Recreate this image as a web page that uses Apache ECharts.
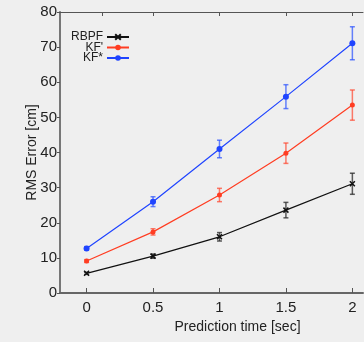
<!DOCTYPE html>
<html><head><meta charset="utf-8">
<script src="https://cdn.jsdelivr.net/npm/echarts@6/dist/echarts.min.js"></script>
<style>html,body{margin:0;padding:0;background:#efefef}#c{width:364px;height:342px}</style>
</head><body><div id="c"></div>
<script>
const times = [0, 0.5, 1, 1.5, 2];
const xTickLabels = [0, 0.5, 1, 1.5, 2];
const topTicks = [0.12, 0.5, 1, 1.5, 2];
const seriesNames = ['RBPF', "KF'", 'KF*'];
const rbpf = [5.6, 10.5, 16.0, 23.6, 31.1];
const rbpfErr = [0.3, 0.6, 1.2, 2.2, 3.0];
const kfp = [9.1, 17.4, 27.9, 39.8, 53.5];
const kfpErr = [0.4, 0.9, 1.9, 2.9, 4.3];
const kfs = [12.7, 26.0, 41.0, 55.9, 71.1];
const kfsErr = [0.5, 1.4, 2.5, 3.4, 4.7];
const colors = ['#111111', '#ff3d22', '#1f44ff'];
const errColors = ['rgba(40,40,40,0.75)', 'rgba(255,70,45,0.7)', 'rgba(40,80,255,0.7)'];

const xSym = 'path://M0,0L10,10M10,0L0,10';
const chart = echarts.init(document.getElementById('c'), null, {renderer: 'canvas'});

function errSeries(vals, errs, ci) {
  return {
    type: 'custom', xAxisIndex: 0, yAxisIndex: 0, z: 3,
    data: times.map((t, i) => [t, vals[i] - errs[i], vals[i] + errs[i]]),
    renderItem: function (params, api) {
      const lo = api.coord([api.value(0), api.value(1)]);
      const hi = api.coord([api.value(0), api.value(2)]);
      const w = 2.5;
      const st = {stroke: errColors[ci], lineWidth: 1.5};
      return {type: 'group', children: [
        {type: 'line', shape: {x1: lo[0], y1: lo[1], x2: hi[0], y2: hi[1]}, style: st},
        {type: 'line', shape: {x1: lo[0] - w, y1: lo[1], x2: lo[0] + w, y2: lo[1]}, style: st},
        {type: 'line', shape: {x1: hi[0] - w, y1: hi[1], x2: hi[0] + w, y2: hi[1]}, style: st}
      ]};
    },
    silent: true
  };
}

function lineSeries(name, vals, ci, symbol, size) {
  return {
    name: name, type: 'line', xAxisIndex: 0, yAxisIndex: 0, z: 4,
    data: times.map((t, i) => [t, vals[i]]),
    symbol: symbol, symbolSize: size, showSymbol: true,
    lineStyle: {color: colors[ci], width: 1.2},
    itemStyle: {color: colors[ci], borderColor: colors[ci], borderWidth: symbol === xSym ? 1.5 : 0},
    animation: false
  };
}

chart.setOption({
  backgroundColor: '#efefef',
  animation: false,
  textStyle: {fontFamily: 'Liberation Sans, Arial, sans-serif'},
  grid: {left: 60, right: 1, top: 12, bottom: 49},
  legend: {
    orient: 'vertical', align: 'right', left: 71, top: 31,
    itemWidth: 22, itemHeight: 7, itemGap: -1.5, padding: 0,
    textStyle: {fontSize: 12, color: '#222', lineHeight: 9, padding: [0, -1, 0, 0]},
    data: seriesNames
  },
  xAxis: [{
    type: 'value', min: -0.2, max: 2.08, position: 'bottom',
    name: 'Prediction time [sec]', nameLocation: 'middle', nameGap: 17,
    nameTextStyle: {fontSize: 14, color: '#222', padding: [0, 0, 0, 52]},
    axisLine: {show: true, onZero: false, lineStyle: {color: '#666', width: 2}},
    axisTick: {show: true, inside: true, length: 5, lineStyle: {color: '#555'}, customValues: xTickLabels},
    axisLabel: {fontSize: 15, color: '#222', margin: 7, customValues: xTickLabels},
    splitLine: {show: false}
  }, {
    type: 'value', min: -0.2, max: 2.08, position: 'top',
    axisLine: {show: true, onZero: false, lineStyle: {color: '#555', width: 1}},
    axisTick: {show: true, inside: true, length: 4, lineStyle: {color: '#555'}, customValues: topTicks},
    axisLabel: {show: false},
    splitLine: {show: false}
  }],
  yAxis: {
    type: 'value', min: 0, max: 80, interval: 10,
    name: 'RMS Error [cm]', nameLocation: 'middle', nameGap: 21, nameMoveOverlap: false,
    nameTextStyle: {fontSize: 14, color: '#222'},
    axisLine: {show: true, onZero: false, lineStyle: {color: '#777', width: 2}},
    axisTick: {show: true, inside: false, length: 3, lineStyle: {color: '#555'}},
    axisLabel: {fontSize: 15, color: '#222', margin: 3},
    splitLine: {show: false}
  },
  series: [
    errSeries(rbpf, rbpfErr, 0),
    errSeries(kfp, kfpErr, 1),
    errSeries(kfs, kfsErr, 2),
    lineSeries(seriesNames[0], rbpf, 0, xSym, 5),
    lineSeries(seriesNames[1], kfp, 1, 'circle', 5),
    lineSeries(seriesNames[2], kfs, 2, 'circle', 6)
  ]
});
</script></body></html>
